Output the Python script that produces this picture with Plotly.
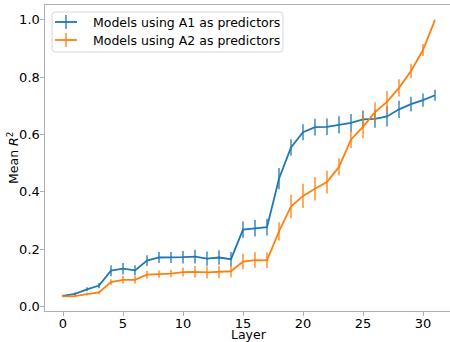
import plotly.graph_objects as go

# Mean R^2 per transformer layer for the two predictor sets
layers = list(range(32))

a1_mean = [0.037, 0.044, 0.060, 0.073, 0.125, 0.132, 0.126, 0.160,
           0.171, 0.171, 0.172, 0.174, 0.167, 0.171, 0.165, 0.268,
           0.273, 0.277, 0.446, 0.555, 0.608, 0.626, 0.627, 0.634,
           0.641, 0.653, 0.655, 0.663, 0.688, 0.706, 0.720, 0.737]
a1_err = [0.004, 0.005, 0.007, 0.009, 0.019, 0.020, 0.018, 0.019,
          0.019, 0.019, 0.022, 0.024, 0.025, 0.025, 0.025, 0.029,
          0.029, 0.029, 0.037, 0.029, 0.028, 0.029, 0.029, 0.030,
          0.031, 0.031, 0.031, 0.035, 0.030, 0.026, 0.023, 0.019]

a2_mean = [0.035, 0.036, 0.043, 0.049, 0.085, 0.093, 0.093, 0.111,
           0.113, 0.115, 0.120, 0.121, 0.119, 0.120, 0.123, 0.157,
           0.162, 0.161, 0.262, 0.349, 0.386, 0.411, 0.434, 0.487,
           0.583, 0.627, 0.678, 0.714, 0.763, 0.822, 0.895, 1.000]
a2_err = [0.003, 0.004, 0.005, 0.006, 0.010, 0.013, 0.013, 0.013,
          0.013, 0.013, 0.015, 0.020, 0.021, 0.021, 0.021, 0.027,
          0.027, 0.027, 0.032, 0.041, 0.042, 0.041, 0.040, 0.030,
          0.030, 0.040, 0.035, 0.038, 0.030, 0.025, 0.021, 0.000]

series_names = ["Models using A1 as predictors", "Models using A2 as predictors"]
colors = ["#1f77b4", "#ff7f0e"]

FONT = "DejaVu Sans"
FS = 12.5
TICK_FS = 13
AXIS_GRAY = "#b0b0b0"

# plot area in pixels
W, H = 450, 342
ML, MT, MB = 45, 5, 31
PW, PH = W - ML, H - MT - MB


def px(x):
    return (x - ML) / PW


def py(y):
    return (H - MB - y) / PH


fig = go.Figure()

for name, mean, err, color in zip(series_names, [a1_mean, a2_mean], [a1_err, a2_err], colors):
    fig.add_trace(go.Scatter(
        x=layers, y=mean, mode="lines", name=name, showlegend=False,
        line=dict(color=color, width=1.8),
        error_y=dict(type="data", array=err, visible=True,
                     color=color, thickness=1.3, width=0),
    ))

# legend box with rounded corners
bx0, bx1, by0, by1, r = 52, 283, 12, 52, 3
path = (
    f"M {px(bx0 + r)},{py(by0)} L {px(bx1 - r)},{py(by0)} "
    f"Q {px(bx1)},{py(by0)} {px(bx1)},{py(by0 + r)} "
    f"L {px(bx1)},{py(by1 - r)} Q {px(bx1)},{py(by1)} {px(bx1 - r)},{py(by1)} "
    f"L {px(bx0 + r)},{py(by1)} Q {px(bx0)},{py(by1)} {px(bx0)},{py(by1 - r)} "
    f"L {px(bx0)},{py(by0 + r)} Q {px(bx0)},{py(by0)} {px(bx0 + r)},{py(by0)} Z"
)
fig.add_shape(type="path", path=path, xref="paper", yref="paper",
              fillcolor="rgba(255,255,255,0.8)", line=dict(color="#d6d6d6", width=1),
              layer="above")

# legend entries: a short line crossed by a vertical error bar, then the label
for i, (name, color) in enumerate(zip(series_names, colors)):
    yc = 22 + 18 * i
    fig.add_shape(type="line", xref="paper", yref="paper",
                  x0=px(55), x1=px(77), y0=py(yc), y1=py(yc),
                  line=dict(color=color, width=1.8), layer="above")
    fig.add_shape(type="line", xref="paper", yref="paper",
                  x0=px(66), x1=px(66), y0=py(yc - 7), y1=py(yc + 7),
                  line=dict(color=color, width=1.3), layer="above")
    fig.add_annotation(text=name, xref="paper", yref="paper",
                       x=px(91), y=py(yc), xanchor="left", yanchor="middle",
                       showarrow=False,
                       font=dict(family=FONT, size=FS, color="black"))

# axis titles
fig.add_annotation(text="Mean <i>R</i><sup>2</sup>", textangle=-90,
                   xref="paper", yref="paper", x=px(13), y=0.5,
                   xanchor="center", yanchor="middle", showarrow=False,
                   font=dict(family=FONT, size=FS, color="black"))
fig.add_annotation(text="Layer",
                   xref="paper", yref="paper", x=px(249), y=py(334),
                   xanchor="center", yanchor="middle", showarrow=False,
                   font=dict(family=FONT, size=FS, color="black"))

fig.update_layout(
    width=W, height=H,
    margin=dict(l=ML, r=0, t=MT, b=MB),
    paper_bgcolor="white", plot_bgcolor="white",
    font=dict(family=FONT, size=TICK_FS, color="black"),
    showlegend=False,
    xaxis=dict(
        range=[-1.5, 32.25], tickvals=[0, 5, 10, 15, 20, 25, 30],
        showgrid=False, zeroline=False,
        showline=True, linecolor=AXIS_GRAY, linewidth=1.2, mirror=True,
        ticks="outside", ticklen=3.5, tickcolor=AXIS_GRAY,
        ticklabelstandoff=-3,
    ),
    yaxis=dict(
        range=[-0.0157, 1.052], tickvals=[0, 0.2, 0.4, 0.6, 0.8, 1.0],
        tickformat=".1f",
        showgrid=False, zeroline=False,
        showline=True, linecolor=AXIS_GRAY, linewidth=1.2,
        ticks="outside", ticklen=3.5, tickcolor=AXIS_GRAY,
        ticklabelstandoff=-2,
    ),
)

fig.write_html("out.html")
